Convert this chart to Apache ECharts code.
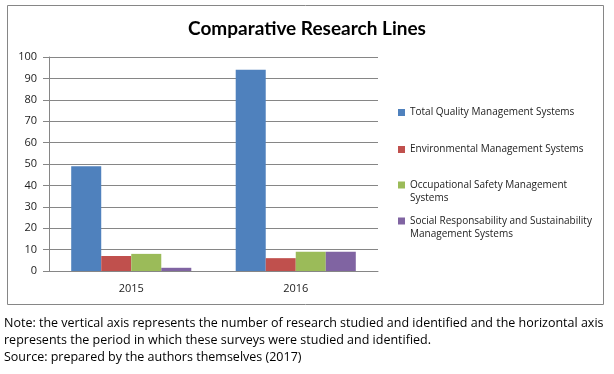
<!DOCTYPE html>
<html><head><meta charset="utf-8">
<script src="https://cdn.jsdelivr.net/npm/echarts@6/dist/echarts.min.js"></script>
<style>html,body{margin:0;padding:0;background:#fff}#c{width:614px;height:374px}</style>
</head><body><div id="c"></div>
<script>
const categories = ['2015', '2016'];
const seriesNames = [
  'Total Quality Management Systems',
  'Environmental Management Systems',
  'Occupational Safety Management Systems',
  'Social Responsability and Sustainability Management Systems'
];
const legendLabels = [
  'Total Quality Management Systems',
  'Environmental Management Systems',
  'Occupational Safety Management\nSystems',
  'Social Responsability and Sustainability\nManagement Systems'
];
const totalQuality = [49, 94];
const environmental = [7, 6];
const occupational = [8, 9];
const socialResp = [1.5, 9];
const yTicks = [0, 10, 20, 30, 40, 50, 60, 70, 80, 90, 100];
const titleText = 'Comparative Research Lines';
const noteLines = [
  'Note: the vertical axis represents the number of research studied and identified and the horizontal axis',
  'represents the period in which these surveys were studied and identified.',
  'Source: prepared by the authors themselves (2017)'
];

const colors = ['#4F81BD', '#C0504D', '#9BBB59', '#8064A2'];
const values = [totalQuality, environmental, occupational, socialResp];
const chart = echarts.init(document.getElementById('c'));

const legendTops = [106, 143, 178.5, 214.5];
const legends = seriesNames.map((n, i) => {
  const two = legendLabels[i].indexOf('\n') >= 0;
  return {
    data: [n],
    left: 398,
    top: legendTops[i],
    padding: 0,
    itemWidth: 7,
    itemHeight: two ? 20 : 7,
    itemGap: 0,
    icon: two ? 'path://M0,0h7v7h-7z M0,20h7' : 'rect',
    selectedMode: false,
    formatter: () => legendLabels[i],
    textStyle: { fontFamily: 'Open Sans', fontSize: 10, color: '#222', lineHeight: 13 }
  };
});

chart.setOption({
  animation: false,
  color: colors,
  title: {
    text: titleText, left: 'center', top: 14,
    textStyle: { fontFamily: 'Lato', fontWeight: 'bold', fontSize: 19, color: '#000' }
  },
  legend: legends,
  grid: { left: 49, right: 236, top: 57, bottom: 103 },
  xAxis: {
    type: 'category', data: categories,
    axisLine: { lineStyle: { color: '#868686' } },
    axisTick: { length: 5, lineStyle: { color: '#868686' } },
    axisLabel: { margin: 12, fontFamily: 'Open Sans', fontSize: 11, color: '#222' }
  },
  yAxis: {
    type: 'value', min: yTicks[0], max: yTicks[yTicks.length - 1], interval: 10,
    axisLine: { show: true, lineStyle: { color: '#868686' } },
    axisTick: { show: true, length: 6, lineStyle: { color: '#868686' } },
    axisLabel: { margin: 12, fontFamily: 'Open Sans', fontSize: 11, color: '#222' },
    splitLine: { lineStyle: { color: '#868686' } }
  },
  series: seriesNames.map((n, i) => ({
    name: n, type: 'bar', data: values[i],
    barGap: '0%', barCategoryGap: '27%',
    itemStyle: { color: colors[i] }
  })),
  graphic: [
    { type: 'rect', shape: { x: 7.5, y: 5.5, width: 596, height: 299 },
      style: { fill: 'none', stroke: '#868686', lineWidth: 1 }, silent: true },
    ...noteLines.map((t, i) => ({
      type: 'text', left: 4, top: 317 + i * 17,
      style: { text: t, fontFamily: 'Open Sans', fontSize: 12.5, fill: '#000' }
    }))
  ]
});
</script></body></html>
